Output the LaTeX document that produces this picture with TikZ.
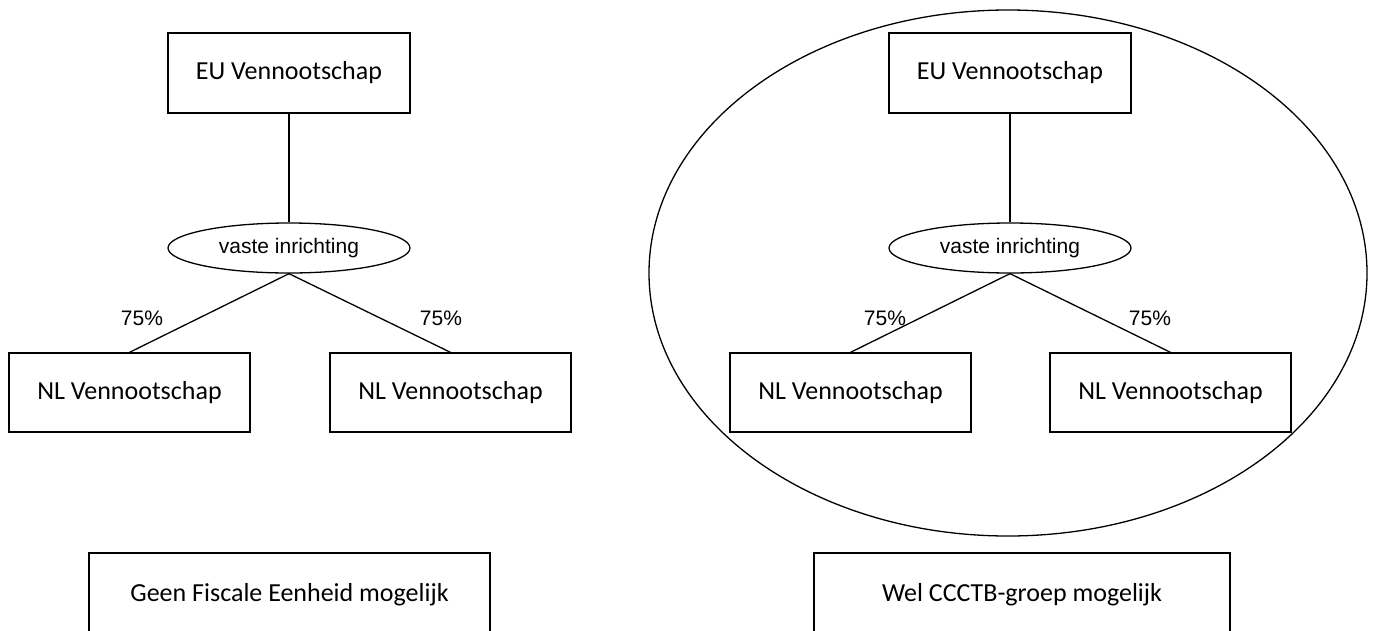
\documentclass[tikz,border=0pt]{standalone}
\usepackage{fontspec}
\setmainfont{Carlito}
\newfontfamily\arialfont{Liberation Sans}
\usetikzlibrary{shapes.geometric}

\tikzset{
  company/.style={draw, line width=1.3pt, rectangle, inner sep=0pt,
    minimum width=242pt, minimum height=80pt,
    font=\fontsize{26}{30}\selectfont},
  branch/.style={draw, line width=1.3pt, ellipse, inner sep=0pt,
    minimum width=242pt, minimum height=50pt,
    font=\arialfont\fontsize{21}{25}\selectfont},
  share/.style={inner sep=0pt, font=\arialfont\fontsize{21}{25}\selectfont},
  verdict/.style={draw, line width=1.3pt, rectangle, inner sep=0pt,
    minimum height=84pt, font=\fontsize{26}{30}\selectfont},
  link/.style={line width=1.3pt},
  group/.style={draw, line width=1.3pt, ellipse, inner sep=0pt,
    minimum width=718pt, minimum height=526pt}
}

\begin{document}
\begin{tikzpicture}[x=1pt, y=-1pt]
  \useasboundingbox (0,0) rectangle (1374,630);
  \clip (0,0) rectangle (1374,630);

  % left structure: no fiscal unity
  \node[company] (euL) at (289,73) {EU Vennootschap};
  \node[branch] (viL) at (289,248) {vaste inrichting};
  \node[company, minimum width=241pt, minimum height=79pt] (nlLa) at (129.5,392.5) {NL Vennootschap};
  \node[company, minimum width=241pt, minimum height=79pt] (nlLb) at (450.5,392.5) {NL Vennootschap};
  \draw[link] (euL.south) -- (viL.north);
  \draw[link] (viL.south) -- (nlLa.north);
  \draw[link] (viL.south) -- (nlLb.north);
  \node[share] (pLa) at (142,318) {75\%};
  \node[share] (pLb) at (441,318) {75\%};
  \node[verdict, minimum width=401pt] (resL) at (289.5,595) {Geen Fiscale Eenheid mogelijk};

  % right structure: CCCTB group
  \node[group] (grp) at (1008,273) {};
  \node[company] (euR) at (1010,73) {EU Vennootschap};
  \node[branch] (viR) at (1010,248) {vaste inrichting};
  \node[company, minimum width=241pt, minimum height=79pt] (nlRa) at (850.5,392.5) {NL Vennootschap};
  \node[company, minimum width=241pt, minimum height=79pt] (nlRb) at (1170.5,392.5) {NL Vennootschap};
  \draw[link] (euR.south) -- (viR.north);
  \draw[link] (viR.south) -- (nlRa.north);
  \draw[link] (viR.south) -- (nlRb.north);
  \node[share] (pRa) at (885,318) {75\%};
  \node[share] (pRb) at (1150,318) {75\%};
  \node[verdict, minimum width=416pt] (resR) at (1022,595) {Wel CCCTB-groep mogelijk};
\end{tikzpicture}
\end{document}
